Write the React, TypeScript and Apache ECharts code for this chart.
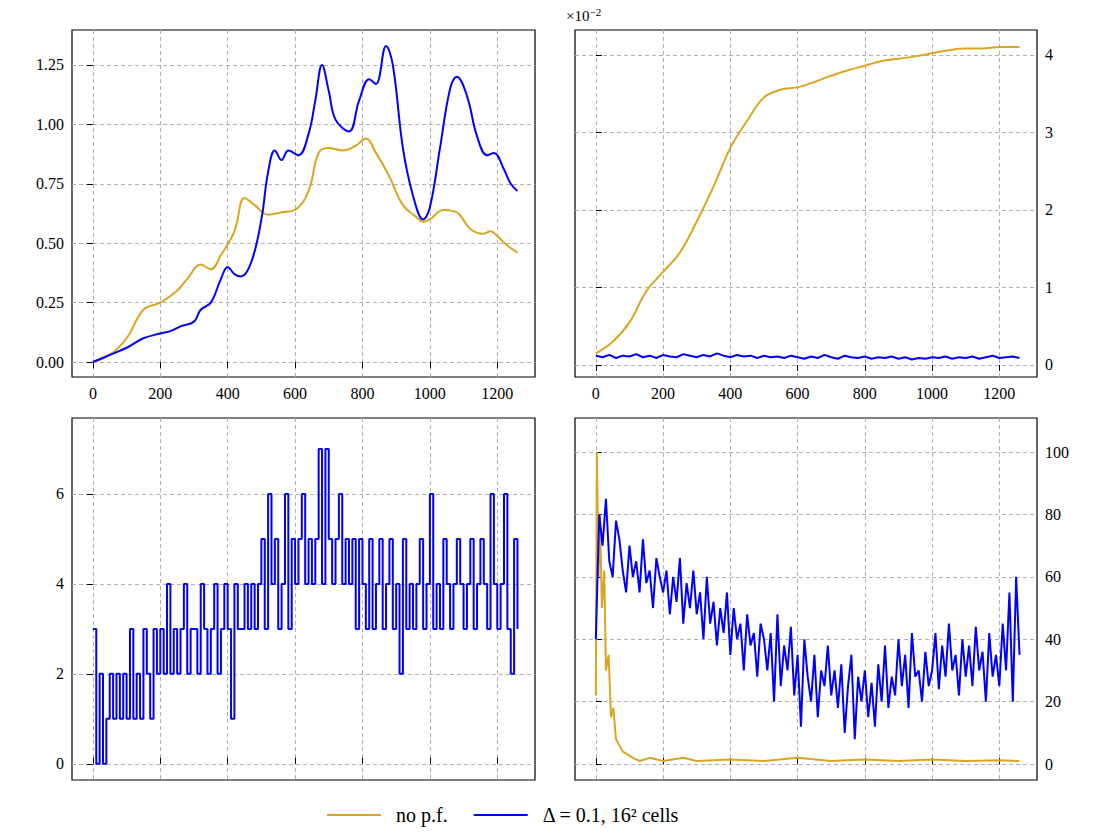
import React, { useEffect, useRef } from "react";
import * as echarts from "echarts";

const ORANGE = "#DAA520";
const BLUE = "#0000FF";
const NAME_A = "no p.f.";
const NAME_B = "Δ = 0.1, 16² cells";
const X_TICKS = [0, 200, 400, 600, 800, 1000, 1200];

// Top-left panel
const tlOrange: [number, number][] = [[0,0],[50,0.03],[100,0.1],[150,0.22],[200,0.25],[250,0.3],[280,0.35],[320,0.41],[350,0.39],[380,0.45],[420,0.55],[450,0.69],[480,0.66],[520,0.62],[560,0.63],[600,0.64],[640,0.72],[670,0.88],[700,0.9],[740,0.89],[780,0.91],[810,0.94],[840,0.88],[880,0.78],[920,0.66],[960,0.61],[980,0.59],[1000,0.6],[1040,0.64],[1080,0.63],[1120,0.56],[1160,0.54],[1180,0.55],[1200,0.53],[1230,0.49],[1260,0.46]];
const tlBlue: [number, number][] = [[0,0],[50,0.03],[100,0.06],[150,0.1],[200,0.12],[230,0.13],[260,0.15],[300,0.17],[320,0.22],[350,0.25],[380,0.35],[400,0.4],[420,0.37],[440,0.36],[470,0.42],[500,0.6],[520,0.8],[540,0.89],[560,0.85],[580,0.89],[610,0.87],[640,0.96],[660,1.1],[680,1.25],[700,1.14],[720,1.02],[760,0.97],[790,1.1],[820,1.19],[840,1.17],[870,1.33],[890,1.25],[920,0.9],[950,0.7],[980,0.6],[1000,0.65],[1030,0.9],[1060,1.15],[1080,1.2],[1110,1.12],[1140,0.95],[1170,0.87],[1190,0.88],[1220,0.81],[1240,0.75],[1260,0.72]];

// Top-right panel (×10^-2)
const trOrange: [number, number][] = [[0,0.15],[50,0.3],[100,0.55],[150,0.95],[200,1.2],[250,1.45],[300,1.85],[350,2.3],[400,2.8],[450,3.15],[500,3.45],[550,3.55],[600,3.58],[650,3.65],[700,3.73],[750,3.8],[800,3.86],[850,3.92],[900,3.95],[950,3.98],[1000,4.02],[1050,4.06],[1100,4.08],[1150,4.08],[1200,4.1],[1260,4.1]];
const trBlueStep = 20;
const trBlue = [0.12,0.1,0.13,0.09,0.12,0.11,0.14,0.1,0.12,0.09,0.13,0.11,0.1,0.14,0.12,0.1,0.13,0.11,0.15,0.12,0.1,0.13,0.11,0.12,0.09,0.12,0.1,0.11,0.09,0.12,0.1,0.08,0.11,0.09,0.13,0.1,0.08,0.12,0.1,0.09,0.11,0.08,0.1,0.09,0.11,0.08,0.1,0.07,0.09,0.08,0.1,0.09,0.11,0.08,0.1,0.09,0.11,0.08,0.1,0.12,0.09,0.1,0.11,0.09];

// Bottom-left panel
const blStep = 10;
const blBlue = [3,0,2,0,1,2,1,2,1,2, 1,3,1,2,1,3,2,1,3,2, 3,2,4,2,3,2,3,4,2,3, 3,2,4,3,2,3,4,2,3,4, 3,1,4,3,3,4,3,4,3,4, 5,3,6,4,5,3,4,6,3,5, 4,5,6,4,5,4,5,7,4,7, 5,4,5,6,4,5,4,5,3,5, 4,3,5,3,4,5,3,4,5,3, 4,2,5,3,4,3,4,5,3,4, 6,3,4,3,5,4,3,4,5,4, 3,4,5,3,4,5,4,3,6,4, 3,4,6,3,2,5,3];

// Bottom-right panel
const brStep = 10;
const brBlue = [40,80,70,85,65,60,78,72,62,55, 70,60,65,55,72,58,62,50,66,60, 55,62,48,60,52,66,45,58,50,62, 48,55,40,60,45,52,38,50,42,55, 35,50,40,45,30,48,38,42,28,45, 40,30,42,20,48,25,38,30,44,22, 35,12,40,28,20,35,15,30,25,38, 22,30,18,32,10,25,35,8,28,20, 30,15,26,12,32,20,38,18,28,22, 40,25,35,18,42,28,30,20,36,25, 30,42,24,38,28,45,30,35,22,40, 28,38,25,44,30,36,20,42,28,35, 25,45,30,55,20,60,35];
const brOrange: [number, number][] = [[0,22],[3,100],[8,60],[12,80],[18,50],[25,62],[30,30],[38,35],[45,15],[52,18],[60,8],[70,6],[80,4],[95,3],[110,2],[130,1],[160,2],[200,1],[260,2],[300,1],[400,1.5],[500,1],[600,2],[700,1],[800,1.5],[900,1],[1000,1.5],[1100,1],[1200,1.2],[1260,1]];

const toPairs = (vals: number[], step: number): [number, number][] => vals.map((v, i) => [i * step, v]);

const FONT = "Liberation Serif";

function xAxis(grid: number, pos: "top" | "bottom", labels: boolean) {
  return {
    type: "value", gridIndex: grid, position: pos, min: -62, max: 1312,
    axisLine: { show: false },
    axisTick: { show: true, inside: false, length: 6, customValues: X_TICKS, lineStyle: { color: "#000" } },
    axisLabel: { show: labels, customValues: X_TICKS, color: "#000", fontSize: 16, fontFamily: FONT, margin: 8, formatter: (v: number) => String(v) },
    splitLine: { show: true, lineStyle: { color: "#b0b0b0", type: [4, 3] } },
  };
}
function yAxis(grid: number, pos: "left" | "right", min: number, max: number, ticks: number[], fmt?: (v: number) => string) {
  return {
    type: "value", gridIndex: grid, position: pos, min, max,
    axisLine: { show: false },
    axisTick: { show: true, length: 6, customValues: ticks, lineStyle: { color: "#000" } },
    axisLabel: { customValues: ticks, color: "#000", fontSize: 16, fontFamily: FONT, margin: 8, formatter: fmt || ((v: number) => String(v)) },
    splitLine: { show: true, lineStyle: { color: "#b0b0b0", type: [4, 3] } },
  };
}
function line(name: string, color: string, grid: number, data: [number, number][], extra: any = {}) {
  return { type: "line", name, xAxisIndex: grid, yAxisIndex: grid, data, showSymbol: false, symbol: "none", lineStyle: { color, width: 2 }, itemStyle: { color }, ...extra };
}

export default function App() {
  const ref = useRef<HTMLDivElement>(null);
  useEffect(() => {
    const chart = echarts.init(ref.current!, null, { renderer: "svg" });
    const gridBox = { show: true, borderColor: "#000", borderWidth: 1.2, backgroundColor: "transparent" };
    chart.setOption({
      animation: false,
      backgroundColor: "#fff",
      grid: [
        { left: 72, top: 30, width: 463, height: 347, ...gridBox },
        { left: 575, top: 30, width: 462, height: 347, ...gridBox },
        { left: 72, top: 418, width: 463, height: 362, ...gridBox },
        { left: 575, top: 418, width: 462, height: 362, ...gridBox },
      ],
      xAxis: [xAxis(0, "bottom", true), xAxis(1, "bottom", true), xAxis(2, "top", false), xAxis(3, "top", false)],
      yAxis: [
        yAxis(0, "left", -0.063, 1.397, [0, 0.25, 0.5, 0.75, 1, 1.25], (v) => v.toFixed(2)),
        yAxis(1, "right", -0.155, 4.32, [0, 1, 2, 3, 4]),
        yAxis(2, "left", -0.36, 7.69, [0, 2, 4, 6]),
        yAxis(3, "right", -5.1, 110.9, [0, 20, 40, 60, 80, 100]),
      ],
      legend: {
        bottom: 2, left: 322, itemWidth: 54, itemHeight: 2, itemGap: 26,
        icon: "rect",
        textStyle: { fontFamily: FONT, fontSize: 20, color: "#000", padding: [0, 0, 0, 10], rich: {} },
        data: [NAME_A, NAME_B],
      },
      graphic: [{
        type: "text", left: 566, top: 6,
        style: { text: "×10{s|−2}", fontFamily: FONT, fontSize: 15, fill: "#000", rich: { s: { fontSize: 11, verticalAlign: "top", padding: [0, 0, 8, 0], fontFamily: FONT } } } as any,
      }],
      series: [
        line(NAME_A, ORANGE, 0, tlOrange, { smooth: 0.4 }),
        line(NAME_B, BLUE, 0, tlBlue, { smooth: 0.4 }),
        line(NAME_A, ORANGE, 1, trOrange, { smooth: 0.4 }),
        line(NAME_B, BLUE, 1, toPairs(trBlue, trBlueStep)),
        line(NAME_B, BLUE, 2, toPairs(blBlue, blStep), { step: "end" }),
        line(NAME_A, ORANGE, 3, brOrange),
        line(NAME_B, BLUE, 3, toPairs(brBlue, brStep)),
      ],
    });
    return () => chart.dispose();
  }, []);
  return <div ref={ref} style={{ position: "fixed", left: 0, top: 0, width: 1094, height: 832 }} />;
}
